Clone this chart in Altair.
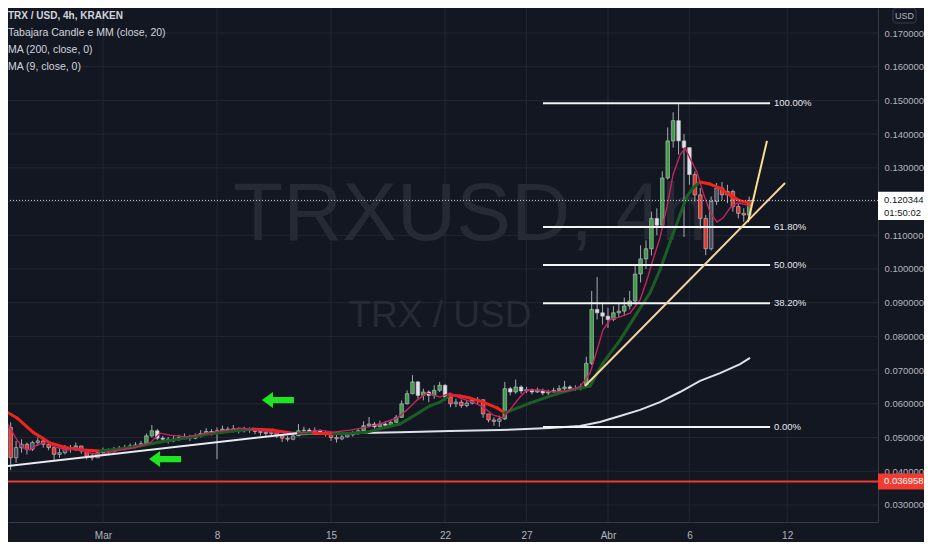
import altair as alt
import numpy as np
import pandas as pd

BG = "#131722"
FONT = "Liberation Sans, Arial, sans-serif"

# ---------------- axes ----------------
xtick_days = [0, 7, 14, 21, 26, 31, 36, 42]          # days after 1 Mar
xtick_labels = ["Mar", "8", "15", "22", "27", "Abr", "6", "12"]
ytick_values = [0.03, 0.04, 0.05, 0.06, 0.07, 0.08, 0.09, 0.10, 0.11,
                0.12, 0.13, 0.14, 0.15, 0.16, 0.17]
x_domain = [-5.83, 47.575]
y_domain = [0.02494, 0.17742]

# ---------------- 8h candles, first one on 23 Feb (day -6) ----------------
candle_first_day = -6.0
candle_first_open = 0.0555
candle_close = [
    0.0530, 0.0440, 0.0470,  0.0480, 0.0465, 0.0485,  0.0490, 0.0480, 0.0470,
    0.0450, 0.0455, 0.0470,  0.0465, 0.0475, 0.0460,  0.0445, 0.0440, 0.0455,
    0.0462, 0.0458, 0.0465,  0.0468, 0.0470, 0.0475,  0.0478, 0.0482, 0.0505,
    0.0520, 0.0498, 0.0495,  0.0490, 0.0495, 0.0500,  0.0502, 0.0498, 0.0505,
    0.0512, 0.0518, 0.0515,  0.0520, 0.0525, 0.0522,  0.0526, 0.0520, 0.0524,
    0.0522, 0.0518, 0.0515,  0.0512, 0.0515, 0.0505,  0.0498, 0.0495, 0.0505,
    0.0520, 0.0522, 0.0518,  0.0520, 0.0515, 0.0512,  0.0500, 0.0496, 0.0502,
    0.0508, 0.0512, 0.0520,  0.0535, 0.0540, 0.0532,  0.0540, 0.0536, 0.0545,
    0.0560, 0.0600, 0.0630,  0.0665, 0.0625, 0.0635,  0.0625, 0.0640, 0.0655,
    0.0620, 0.0600, 0.0605,  0.0595, 0.0602, 0.0610,  0.0612, 0.0570, 0.0552,
    0.0548, 0.0555, 0.0645,  0.0635, 0.0650, 0.0638,  0.0642, 0.0635, 0.0640,
    0.0632, 0.0636, 0.0640,  0.0645, 0.0650, 0.0645,  0.0645, 0.0652, 0.0720,
    0.0880, 0.0870, 0.0860,  0.0850, 0.0870, 0.0875,  0.0890, 0.0905, 0.0985,
    0.1030, 0.1060, 0.1150,  0.1130, 0.1270, 0.1380,  0.1440, 0.1380, 0.1360,
    0.1280, 0.1220, 0.1150,  0.1060, 0.1200, 0.1240,  0.1220, 0.1230, 0.1185,
    0.1165, 0.1160, 0.1203,
]
candle_high = [
    0.0570, 0.0545, 0.0490,  0.0495, 0.0485, 0.0490,  0.0500, 0.0502, 0.0485,
    0.0475, 0.0468, 0.0478,  0.0478, 0.0485, 0.0475,  0.0462, 0.0452, 0.0462,
    0.0470, 0.0468, 0.0472,  0.0475, 0.0478, 0.0482,  0.0486, 0.0490, 0.0512,
    0.0537, 0.0525, 0.0505,  0.0502, 0.0505, 0.0508,  0.0512, 0.0508, 0.0512,
    0.0522, 0.0528, 0.0525,  0.0530, 0.0535, 0.0532,  0.0537, 0.0530, 0.0532,
    0.0530, 0.0528, 0.0524,  0.0522, 0.0522, 0.0516,  0.0508, 0.0505, 0.0512,
    0.0540, 0.0532, 0.0528,  0.0530, 0.0524, 0.0520,  0.0515, 0.0508, 0.0510,
    0.0515, 0.0520, 0.0528,  0.0548, 0.0561, 0.0546,  0.0550, 0.0548, 0.0552,
    0.0567, 0.0610, 0.0640,  0.0685, 0.0668, 0.0645,  0.0640, 0.0655, 0.0665,
    0.0658, 0.0625, 0.0615,  0.0612, 0.0610, 0.0618,  0.0620, 0.0612, 0.0570,
    0.0560, 0.0565, 0.0665,  0.0650, 0.0672, 0.0655,  0.0650, 0.0645, 0.0648,
    0.0645, 0.0642, 0.0648,  0.0655, 0.0668, 0.0655,  0.0655, 0.0660, 0.0740,
    0.0935, 0.0976, 0.0900,  0.0885, 0.0890, 0.0900,  0.0915, 0.0935, 0.1010,
    0.1070, 0.1085, 0.1170,  0.1180, 0.1290, 0.1420,  0.1465, 0.1490, 0.1400,
    0.1345, 0.1290, 0.1240,  0.1160, 0.1215, 0.1255,  0.1258, 0.1250, 0.1235,
    0.1195, 0.1180, 0.1215,
]
candle_low = [
    0.0520, 0.0403, 0.0425,  0.0455, 0.0450, 0.0460,  0.0475, 0.0470, 0.0462,
    0.0430, 0.0440, 0.0450,  0.0455, 0.0460, 0.0452,  0.0435, 0.0432, 0.0440,
    0.0450, 0.0450, 0.0455,  0.0460, 0.0462, 0.0466,  0.0468, 0.0472, 0.0478,
    0.0500, 0.0492, 0.0488,  0.0482, 0.0486, 0.0490,  0.0494, 0.0490, 0.0495,
    0.0500, 0.0508, 0.0506,  0.0436, 0.0512, 0.0514,  0.0515, 0.0512, 0.0515,
    0.0514, 0.0510, 0.0506,  0.0505, 0.0505, 0.0498,  0.0487, 0.0488, 0.0492,
    0.0505, 0.0512, 0.0510,  0.0510, 0.0508, 0.0503,  0.0490, 0.0485, 0.0492,
    0.0500, 0.0503, 0.0508,  0.0518, 0.0530, 0.0526,  0.0530, 0.0528, 0.0532,
    0.0544, 0.0558, 0.0598,  0.0628, 0.0615, 0.0610,  0.0605, 0.0615, 0.0635,
    0.0610, 0.0590, 0.0590,  0.0588, 0.0590, 0.0598,  0.0600, 0.0558, 0.0545,
    0.0535, 0.0532, 0.0552,  0.0625, 0.0630, 0.0630,  0.0632, 0.0628, 0.0632,
    0.0625, 0.0626, 0.0632,  0.0638, 0.0640, 0.0638,  0.0638, 0.0640, 0.0648,
    0.0715, 0.0850, 0.0835,  0.0825, 0.0845, 0.0855,  0.0860, 0.0880, 0.0895,
    0.0960, 0.1000, 0.1040,  0.1100, 0.1125, 0.1265,  0.1360, 0.1340, 0.1095,
    0.1250, 0.1200, 0.1120,  0.1041, 0.1055, 0.1190,  0.1205, 0.1195, 0.1170,
    0.1150, 0.1140, 0.1155,
]

# ---------------- moving averages ----------------
ma20_day = [-6.32, -5.28, -4.30, -3.25, -2.21, -1.23, -0.18, 1.04, 2.27, 3.50, 5.16,
            6.38, 7.98, 9.21, 10.44, 11.66, 12.89, 14.12, 15.16, 16.21, 17.43, 18.23,
            18.85, 19.46, 20.07, 20.69, 21.30, 21.92, 22.53, 23.33, 24.19, 24.68, 24.98,
            26.21, 27.26, 28.24, 29.28, 29.90, 30.69, 31.74, 32.78, 33.58, 34.19, 34.81,
            35.42, 35.85, 36.22, 36.65, 37.26, 37.88, 38.49, 39.11, 39.72]
ma20_val = [0.0588, 0.0558, 0.0516, 0.0484, 0.0469, 0.0463, 0.0460, 0.0466, 0.0475,
            0.0487, 0.0499, 0.0510, 0.0519, 0.0525, 0.0522, 0.0513, 0.0513, 0.0511,
            0.0513, 0.0516, 0.0531, 0.0540, 0.0558, 0.0576, 0.0594, 0.0605, 0.0626,
            0.0623, 0.0617, 0.0605, 0.0588, 0.0573, 0.0579, 0.0602, 0.0620, 0.0635,
            0.0647, 0.0653, 0.0721, 0.0789, 0.0869, 0.0929, 0.0997, 0.1080, 0.1160,
            0.1216, 0.1240, 0.1258, 0.1252, 0.1240, 0.1219, 0.1202, 0.1196]

ma9_day = [-6.32, -5.89, -5.28, -4.91, -4.48, -4.05, -3.44, -2.95, -2.21, -1.60, -0.80,
           -0.18, 0.43, 1.04, 1.84, 2.89, 3.50, 4.11, 5.16, 6.38, 7.61, 8.41, 9.45,
           10.44, 11.66, 12.52, 13.32, 14.12, 15.16, 16.21, 17.19, 18.05, 18.66, 19.28,
           19.89, 20.69, 21.30, 21.92, 22.71, 23.33, 23.94, 24.55, 24.98, 25.60, 26.03,
           26.83, 27.62, 28.48, 29.28, 29.90, 30.33, 30.69, 31.12, 31.74, 32.35, 32.97,
           33.39, 33.76, 34.19, 34.62, 34.99, 35.42, 35.73, 36.03, 36.46, 36.83, 37.26,
           37.69, 38.06, 38.49, 38.92, 39.53, 39.84]
ma9_val = [0.0573, 0.0543, 0.0493, 0.0469, 0.0463, 0.0478, 0.0487, 0.0472, 0.0463,
           0.0469, 0.0454, 0.0448, 0.0457, 0.0463, 0.0469, 0.0484, 0.0513, 0.0507,
           0.0502, 0.0513, 0.0522, 0.0528, 0.0522, 0.0516, 0.0513, 0.0516, 0.0522,
           0.0516, 0.0522, 0.0531, 0.0543, 0.0558, 0.0582, 0.0611, 0.0632, 0.0620,
           0.0632, 0.0617, 0.0605, 0.0591, 0.0567, 0.0558, 0.0582, 0.0620, 0.0641,
           0.0641, 0.0635, 0.0638, 0.0650, 0.0691, 0.0760, 0.0819, 0.0849, 0.0858,
           0.0869, 0.0908, 0.0967, 0.1027, 0.1092, 0.1184, 0.1279, 0.1338, 0.1359,
           0.1329, 0.1288, 0.1228, 0.1169, 0.1139, 0.1151, 0.1181, 0.1196, 0.1190,
           0.1181]

ma200_day = [11.91, 15.16, 18.23, 21.30, 24.37, 27.44, 29.28, 30.51, 31.74, 32.97,
             34.19, 35.42, 36.65, 37.88, 39.11, 39.72]
ma200_val = [0.0510, 0.0513, 0.0516, 0.0519, 0.0522, 0.0528, 0.0534, 0.0546, 0.0564,
             0.0582, 0.0605, 0.0635, 0.0668, 0.0691, 0.0718, 0.0736]

# ---------------- drawings ----------------
trend_name = ["support", "channel", "steep"]
trend_t0 = [-6.32, 29.59, 39.59]
trend_v0 = [0.0413, 0.0653, 0.1139]
trend_t1 = [11.91, 41.87, 40.76]
trend_v1 = [0.0513, 0.1255, 0.1380]
trend_colors = {"support": "#e9ebf0", "channel": "#f6d39c", "steep": "#fae08f"}

fib_low, fib_high = 0.0531, 0.1492
fib_levels = [1.0, 0.618, 0.5, 0.382, 0.0]
fib_labels = ["100.00%", "61.80%", "50.00%", "38.20%", "0.00%"]
fib_t0, fib_t1, fib_label_t = 27.01, 40.95, 41.19

arrow_t = [10.74, 3.81]
arrow_v = [0.0611, 0.0436]

last_price = 0.120344
last_price_text = "0.120344"
countdown_text = "01:50:02"
red_level = 0.036958
red_level_text = "0.036958"

legend_lines = ["TRX / USD, 4h, KRAKEN", "Tabajara Candle e MM (close, 20)",
                "MA (200, close, 0)", "MA (9, close, 0)"]
watermark_big = "TRXUSD, 4h"
watermark_small = "TRX / USD"

# ---------------- build tables ----------------
n = len(candle_close)
t = candle_first_day + np.arange(n) / 3.0
opens = np.array([candle_first_open] + candle_close[:-1])
closes = np.array(candle_close)
highs = np.maximum.reduce([np.array(candle_high), opens, closes])
lows = np.minimum.reduce([np.array(candle_low), opens, closes])
ma20_at = np.interp(t, ma20_day, ma20_val)
cat = np.where((closes >= opens) & (closes > ma20_at), "green",
      np.where((closes < opens) & (closes < ma20_at), "red",
      np.where(closes >= opens, "up", "down")))
candles = pd.DataFrame({"t": t, "open": opens, "close": closes, "high": highs,
                        "low": lows, "cat": cat,
                        "x0": t - 0.11, "x1": t + 0.11})

seg = pd.DataFrame({"t": ma20_day[:-1], "v": ma20_val[:-1],
                    "t2": ma20_day[1:], "v2": ma20_val[1:]})
seg["dir"] = np.where(seg["v2"] >= seg["v"], "up", "down")
ma9 = pd.DataFrame({"t": ma9_day, "v": ma9_val})
ma200 = pd.DataFrame({"t": ma200_day, "v": ma200_val})
trend = pd.DataFrame({"name": trend_name, "t": trend_t0, "v": trend_v0,
                      "t2": trend_t1, "v2": trend_v1})
fib = pd.DataFrame({"label": fib_labels,
                    "v": [fib_low + (fib_high - fib_low) * l for l in fib_levels],
                    "t": fib_t0, "t2": fib_t1, "tl": fib_label_t})
arrows = pd.DataFrame({"t": arrow_t, "v": arrow_v})
one = pd.DataFrame({"a": [0]})
hgrid = pd.DataFrame({"v": ytick_values})
vgrid = pd.DataFrame({"t": xtick_days})

xs = alt.Scale(domain=x_domain, nice=False, zero=False)
ys = alt.Scale(domain=y_domain, nice=False, zero=False)

GRID = "#232733"
label_expr = "".join(f"datum.value == {d} ? '{l}' : " for d, l in zip(xtick_days, xtick_labels)) + "''"
x_axis = alt.Axis(values=xtick_days, labelExpr=label_expr, grid=False,
                  ticks=False, labelPadding=8, domainColor="#363a45",
                  labelOverlap=False, labelColor="#b2b5be", labelFontSize=10,
                  labelFlush=False, title=None)
y_axis = alt.Axis(orient="right", values=ytick_values, format=".6f", grid=False,
                  ticks=False, labelPadding=6,
                  domainColor="#363a45", labelColor="#b2b5be", labelFontSize=9.5,
                  labelOverlap=False, labelFlush=False, title=None)


def X(f):
    return alt.X(f"{f}:Q", scale=xs, axis=x_axis, title=None)


def Y(f):
    return alt.Y(f"{f}:Q", scale=ys, axis=y_axis, title=None)


layers = []

# grid lines drawn from the tick lists
layers.append(alt.Chart(hgrid).mark_rule(color=GRID, strokeWidth=1).encode(y=Y("v")))
layers.append(alt.Chart(vgrid).mark_rule(color=GRID, strokeWidth=1).encode(x=X("t")))

# watermark
layers.append(alt.Chart(one).mark_text(text=watermark_big, fontSize=82, color="#262a35",
                                       align="center", baseline="middle", font=FONT)
              .encode(x=alt.value(462), y=alt.value(207)))
layers.append(alt.Chart(one).mark_text(text=watermark_small, fontSize=37, color="#262a35",
                                       align="center", baseline="middle", font=FONT)
              .encode(x=alt.value(432), y=alt.value(308)))

# MA 200
layers.append(alt.Chart(ma200).mark_line(color="#dfe1e8", strokeWidth=2, clip=True)
              .encode(x=X("t"), y=Y("v")))

# candles
cat_scale = alt.Scale(domain=["green", "red", "up", "down"],
                      range=["#3f9e45", "#e8352c", "#4a4e5a", "#dfe1e8"])
layers.append(alt.Chart(candles).mark_rule(color="#a7aab3", strokeWidth=1, clip=True)
              .encode(x=X("t"), y=Y("low"), y2="high"))
layers.append(alt.Chart(candles).mark_bar(stroke="#c3c6ce", strokeWidth=0.6, clip=True)
              .encode(x=X("x0"), x2="x1", y=Y("open"), y2="close",
                      fill=alt.Fill("cat:N", scale=cat_scale, legend=None)))

# MA 20 (Tabajara) coloured by direction
layers.append(alt.Chart(seg).mark_rule(strokeWidth=3, strokeCap="round", clip=True)
              .encode(x=X("t"), y=Y("v"), x2="t2", y2="v2",
                      stroke=alt.Stroke("dir:N", scale=alt.Scale(domain=["up", "down"],
                                        range=["#1b5e25", "#f0251c"]), legend=None)))
# MA 9
layers.append(alt.Chart(ma9).mark_line(color="#c8255f", strokeWidth=1.4, clip=True)
              .encode(x=X("t"), y=Y("v")))

# fib lines + labels
layers.append(alt.Chart(fib).mark_rule(color="#f4f5f8", strokeWidth=2, clip=True)
              .encode(x=X("t"), x2="t2", y=Y("v")))
layers.append(alt.Chart(fib).mark_text(color="#e6e8ee", fontSize=9.5, align="left",
                                       baseline="middle", font=FONT)
              .encode(x=X("tl"), y=Y("v"), text="label:N"))

# trend lines, one layer each with a fixed colour
for name in trend_name:
    layers.append(alt.Chart(trend).transform_filter(alt.datum.name == name)
                  .mark_rule(strokeWidth=2, clip=True, color=trend_colors[name])
                  .encode(x=X("t"), y=Y("v"), x2="t2", y2="v2"))

# horizontal levels
layers.append(alt.Chart(pd.DataFrame({"v": [red_level]}))
              .mark_rule(color="#f23b30", strokeWidth=2).encode(y=Y("v")))
layers.append(alt.Chart(pd.DataFrame({"v": [last_price]}))
              .mark_rule(color="#d1d4dc", strokeWidth=1, strokeDash=[1, 2]).encode(y=Y("v")))

# green arrows
arrow_path = "M -1 0 L -0.31 -0.5 L -0.31 -0.19 L 1 -0.19 L 1 0.19 L -0.31 0.19 L -0.31 0.5 Z"
layers.append(alt.Chart(arrows).mark_point(shape=arrow_path, size=1024, filled=True,
                                           color="#22e322", opacity=1, strokeWidth=0)
              .encode(x=X("t"), y=Y("v")))

# legend text top-left
for i, line in enumerate(legend_lines):
    layers.append(alt.Chart(one).mark_text(text=line, fontSize=10.5 if i else 10,
                                           color="#d1d4dc",
                                           fontWeight="bold" if i == 0 else "normal",
                                           align="left", baseline="middle", font=FONT)
                  .encode(x=alt.value(0), y=alt.value(8 + 17 * i)))

# price scale tags
box_red = "M -1 -0.31 L 1 -0.31 L 1 0.31 L -1 0.31 Z"
box_last = "M -1 -0.33 L 1 -0.33 L 1 0.75 L -1 0.75 Z"
layers.append(alt.Chart(pd.DataFrame({"v": [red_level]}))
              .mark_point(shape=box_red, size=2704, filled=True, color="#f23b30",
                          opacity=1, strokeWidth=0)
              .encode(x=alt.value(896), y=Y("v")))
layers.append(alt.Chart(pd.DataFrame({"v": [red_level]}))
              .mark_text(text=red_level_text, color="#ffffff", fontSize=9.5, align="left",
                         baseline="middle", font=FONT)
              .encode(x=alt.value(876), y=Y("v")))
layers.append(alt.Chart(pd.DataFrame({"v": [last_price]}))
              .mark_point(shape=box_last, size=2704, filled=True, color="#ffffff",
                          opacity=1, strokeWidth=0)
              .encode(x=alt.value(896), y=Y("v")))
layers.append(alt.Chart(pd.DataFrame({"v": [last_price]}))
              .mark_text(text=last_price_text, color="#131722", fontSize=9.5, align="left",
                         baseline="middle", font=FONT)
              .encode(x=alt.value(876), y=Y("v")))
layers.append(alt.Chart(pd.DataFrame({"v": [last_price]}))
              .mark_text(text=countdown_text, color="#131722", fontSize=9.5, align="left",
                         baseline="middle", dy=13, font=FONT)
              .encode(x=alt.value(876), y=Y("v")))

# USD badge
layers.append(alt.Chart(one).mark_rect(fill=BG, stroke="#3a3e4a", strokeWidth=1,
                                       cornerRadius=3)
              .encode(x=alt.value(885), x2=alt.value(908), y=alt.value(0), y2=alt.value(15)))
layers.append(alt.Chart(one).mark_text(text="USD", color="#b2b5be", fontSize=9,
                                       align="center", baseline="middle", font=FONT)
              .encode(x=alt.value(896.5), y=alt.value(7.5)))

chart = (alt.layer(*layers)
         .properties(width=870, height=514,
                     padding={"left": 0, "top": 0, "right": 46, "bottom": 20},
                     autosize=alt.AutoSizeParams(type="none"),
                     background=BG)
         .configure_view(stroke="transparent")
         .configure_axis(labelFont=FONT))

chart.save("out.html", embed_options={"renderer": "svg", "actions": False})
